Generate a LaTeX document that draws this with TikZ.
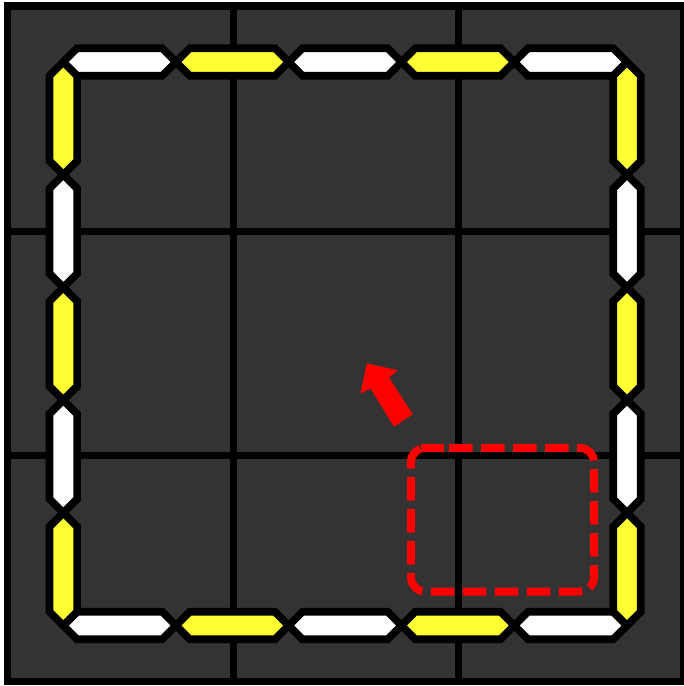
\documentclass[tikz,border=0pt]{standalone}
\usetikzlibrary{calc}
\definecolor{bggrey}{RGB}{51,51,51}
\definecolor{segyellow}{RGB}{255,255,51}
\definecolor{markred}{RGB}{255,0,0}
\tikzset{
  gridline/.style={draw=black, line width=7.2pt, line join=miter},
  segbox/.style={draw=black, line width=7.7pt, line join=miter, miter limit=10},
  focusbox/.style={draw=markred, line width=8pt, rounded corners=14pt, dash pattern=on 23.5pt off 8.5pt},
  movearrow/.style={fill=markred, draw=none}
}
% horizontal segment: colour, x1, x2, y
\newcommand\HSeg[4]{\draw[segbox, fill=#1] (#2,#4) -- ({#2+13.8},{#4-13.8}) -- ({#3-13.8},{#4-13.8}) -- (#3,#4) -- ({#3-13.8},{#4+13.8}) -- ({#2+13.8},{#4+13.8}) -- cycle;}
% vertical segment: colour, y1, y2, x
\newcommand\VSeg[4]{\draw[segbox, fill=#1] (#4,#2) -- ({#4+13.8},{#2+13.8}) -- ({#4+13.8},{#3-13.8}) -- (#4,#3) -- ({#4-13.8},{#3-13.8}) -- ({#4-13.8},{#2+13.8}) -- cycle;}
\begin{document}
\begin{tikzpicture}[x=1pt,y=-1pt]
\useasboundingbox (0,0) rectangle (684,686);
\fill[white] (0,0) rectangle (684,686);
% board
\fill[bggrey] (7.5,6) rectangle (683.5,681.5);
\draw[gridline] (233.2,6) -- (233.2,681.5);
\draw[gridline] (458.3,6) -- (458.3,681.5);
\draw[gridline] (7.5,231.5) -- (683.5,231.5);
\draw[gridline] (7.5,455.7) -- (683.5,455.7);
\draw[gridline] (7.5,6) rectangle (683.5,681.5);
% top row
\HSeg{white}{63.3}{176}{62}
\HSeg{segyellow}{176}{288.7}{62}
\HSeg{white}{288.7}{401.5}{62}
\HSeg{segyellow}{401.5}{514.2}{62}
\HSeg{white}{514.2}{627}{62}
% bottom row
\HSeg{white}{63.3}{176}{625.5}
\HSeg{segyellow}{176}{288.7}{625.5}
\HSeg{white}{288.7}{401.5}{625.5}
\HSeg{segyellow}{401.5}{514.2}{625.5}
\HSeg{white}{514.2}{627}{625.5}
% left column
\VSeg{segyellow}{62}{174.7}{63.3}
\VSeg{white}{174.7}{287.4}{63.3}
\VSeg{segyellow}{287.4}{400.1}{63.3}
\VSeg{white}{400.1}{512.8}{63.3}
\VSeg{segyellow}{512.8}{625.5}{63.3}
% right column
\VSeg{segyellow}{62}{174.7}{627}
\VSeg{white}{174.7}{287.4}{627}
\VSeg{segyellow}{287.4}{400.1}{627}
\VSeg{white}{400.1}{512.8}{627}
\VSeg{segyellow}{512.8}{625.5}{627}
% focus box
\draw[focusbox] (435,448) -- (594,448) -- (594,591.5) -- (411,591.5) -- (411,448) -- cycle;
% arrow
\coordinate (tip) at (366.7,363.3);
\coordinate (hr) at (398,370.3);
\coordinate (sr) at (389,377.5);
\coordinate (tr) at (412.7,414.3);
\coordinate (tl) at (394,426.7);
\coordinate (sl) at (370.5,388.5);
\coordinate (hl) at (360.5,393.5);
\fill[movearrow] (tip) -- (hr) -- (sr) -- (tr) -- (tl) -- (sl) -- (hl) -- cycle;
\end{tikzpicture}
\end{document}
